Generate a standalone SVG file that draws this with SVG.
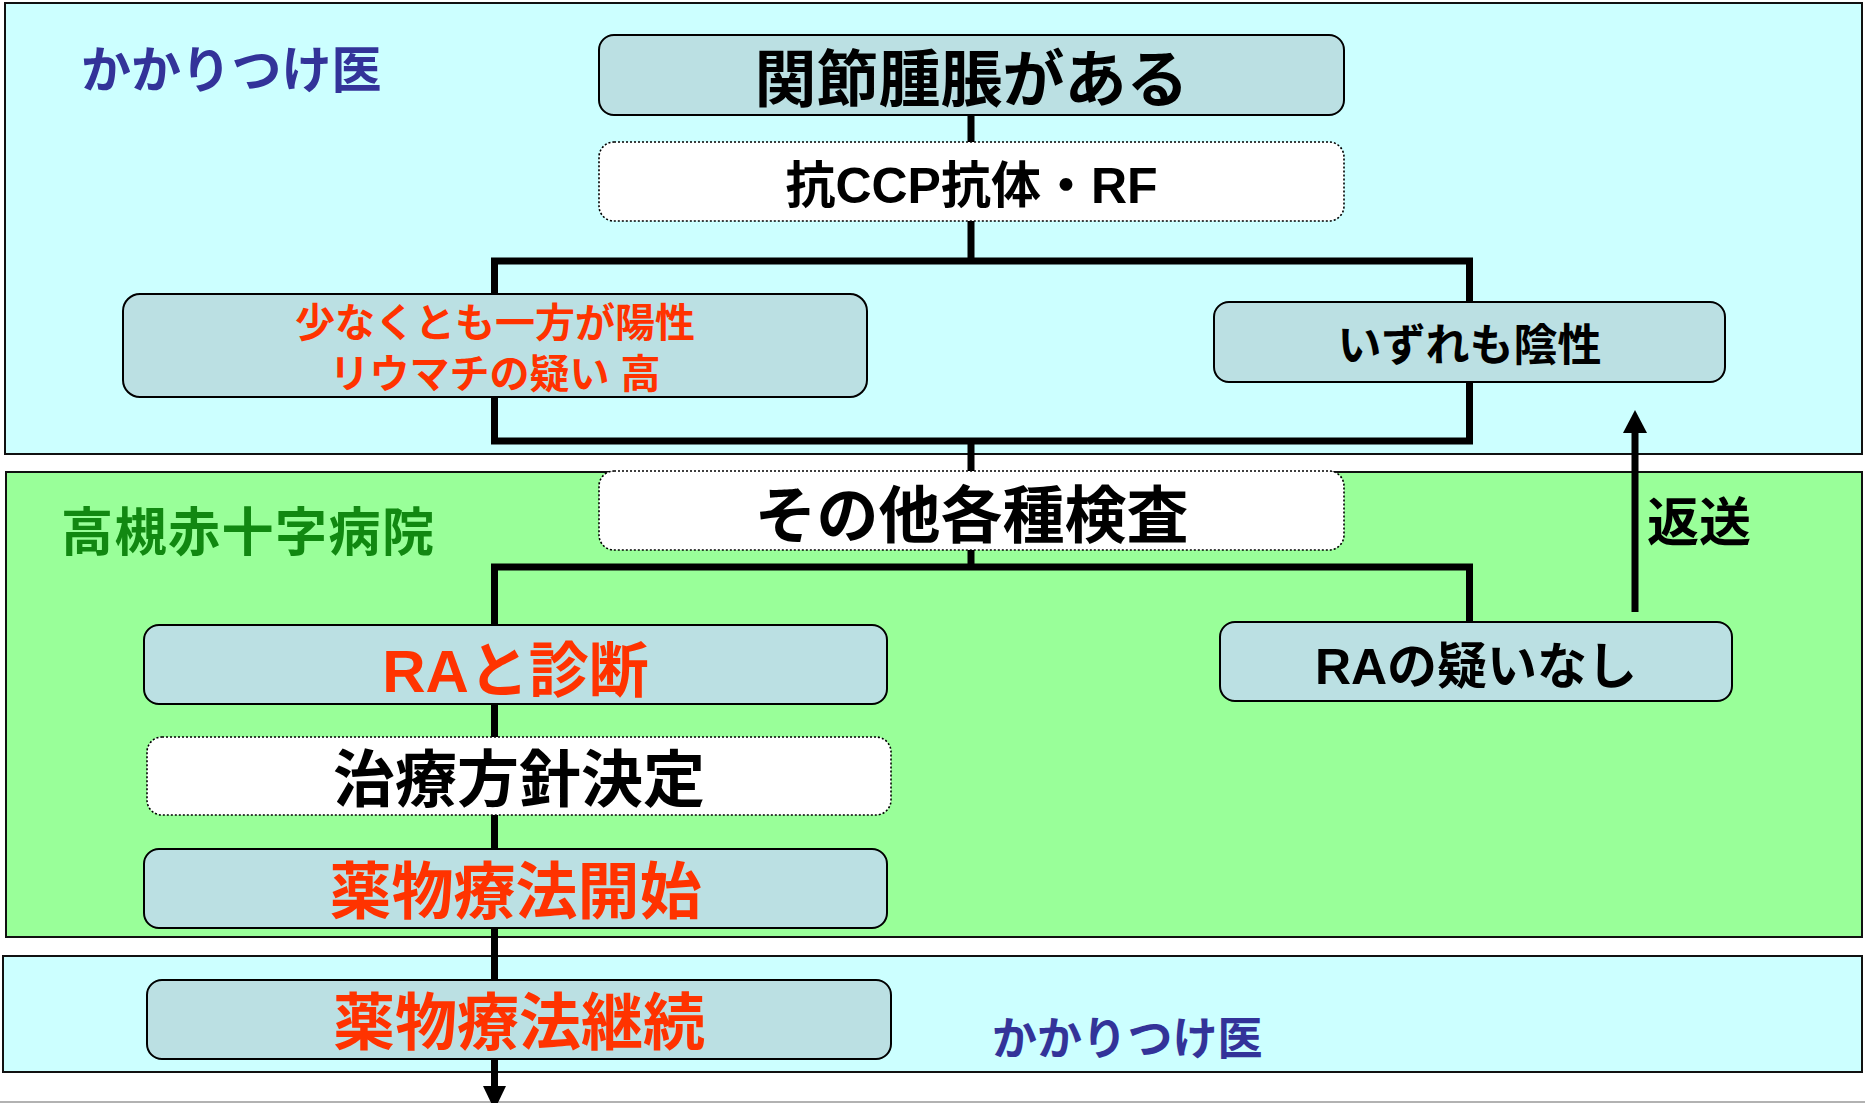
<svg xmlns="http://www.w3.org/2000/svg" width="1865" height="1103" viewBox="0 0 1865 1103">
<defs>
<style>
.panel{stroke:#111;stroke-width:2}
.node{fill:#BBE0E3;stroke:#000;stroke-width:2}
.dot{fill:#fff;stroke:#000;stroke-width:1.6;stroke-dasharray:2 2}
.t{font-family:"Liberation Sans","Noto Sans CJK JP",sans-serif;font-weight:700;text-anchor:middle}
.blk{fill:#000}
.red{fill:#FF3300}
.lbl{font-family:"Noto Sans CJK JP",sans-serif;font-weight:700}
.con{fill:none;stroke:#000;stroke-width:7}
</style>
</defs>
<rect width="1865" height="1103" fill="#fff"/>
<g id="panels">
<rect class="panel" x="5" y="3" width="1857" height="451" fill="#CCFFFF"/>
<rect class="panel" x="6" y="472" width="1856" height="465" fill="#99FF99"/>
<rect class="panel" x="3" y="956" width="1859" height="116" fill="#CCFFFF"/>
<line x1="0" y1="1102" x2="1865" y2="1102" stroke="#999" stroke-width="1.5"/>
<text class="lbl" x="81" y="88" font-size="50" fill="#333399">かかりつけ医</text>
<text class="lbl" x="61" y="551" font-size="52" fill="#118811" letter-spacing="1.5">高槻赤十字病院</text>
<text class="lbl" x="992" y="1055" font-size="45" fill="#333399">かかりつけ医</text>
</g>
<g id="connectors">
<line class="con" x1="971" y1="114" x2="971" y2="142"/>
<line class="con" x1="971" y1="221" x2="971" y2="261"/>
<rect class="con" x="494.5" y="261" width="975" height="180"/>
<line class="con" x1="971" y1="441" x2="971" y2="471"/>
<line class="con" x1="971" y1="550" x2="971" y2="567"/>
<path class="con" d="M494.5,625 V567 H1469.5 V622"/>
<line class="con" x1="494.5" y1="704" x2="494.5" y2="737"/>
<line class="con" x1="494.5" y1="815" x2="494.5" y2="849"/>
<line class="con" x1="494.5" y1="928" x2="494.5" y2="980"/>
<line class="con" x1="494.5" y1="1059" x2="494.5" y2="1086"/>
<path d="M483,1086 L506,1086 L494.5,1110 z" fill="#000"/>
<line class="con" x1="1635" y1="612" x2="1635" y2="432"/>
<path d="M1623,433 L1647,433 L1635,410 z" fill="#000"/>
<text class="lbl" x="1647" y="541" font-size="52" fill="#000">返送</text>
</g>
<g id="n1"><rect class="node" x="599" y="35" width="745" height="80" rx="15"/><text class="t blk" x="971.5" y="102" font-size="62">関節腫脹がある</text></g>
<g id="n2"><rect class="dot" x="599" y="142" width="745" height="79" rx="15"/><text class="t blk" x="971.5" y="203" font-size="50">抗CCP抗体・RF</text></g>
<g id="n3"><rect class="node" x="123" y="294" width="744" height="103" rx="17"/><text class="t red" x="495" y="337" font-size="40">少なくとも一方が陽性</text><text class="t red" x="495" y="388" font-size="40">リウマチの疑い 高</text></g>
<g id="n4"><rect class="node" x="1214" y="302" width="511" height="80" rx="15"/><text class="t blk" x="1469.5" y="361" font-size="44">いずれも陰性</text></g>
<g id="n5"><rect class="dot" x="599" y="471" width="745" height="79" rx="15"/><text class="t blk" x="971.5" y="538" font-size="62">その他各種検査</text></g>
<g id="n6"><rect class="node" x="144" y="625" width="743" height="79" rx="15"/><text class="t red" x="515.5" y="692" font-size="60">RAと診断</text></g>
<g id="n7"><rect class="node" x="1220" y="622" width="512" height="79" rx="15"/><text class="t blk" x="1476" y="684" font-size="50">RAの疑いなし</text></g>
<g id="n8"><rect class="dot" x="147" y="737" width="744" height="78" rx="15"/><text class="t blk" x="519" y="802" font-size="62">治療方針決定</text></g>
<g id="n9"><rect class="node" x="144" y="849" width="743" height="79" rx="15"/><text class="t red" x="515.5" y="914" font-size="62">薬物療法開始</text></g>
<g id="n10"><rect class="node" x="147" y="980" width="744" height="79" rx="15"/><text class="t red" x="519" y="1045" font-size="62">薬物療法継続</text></g>
</svg>
